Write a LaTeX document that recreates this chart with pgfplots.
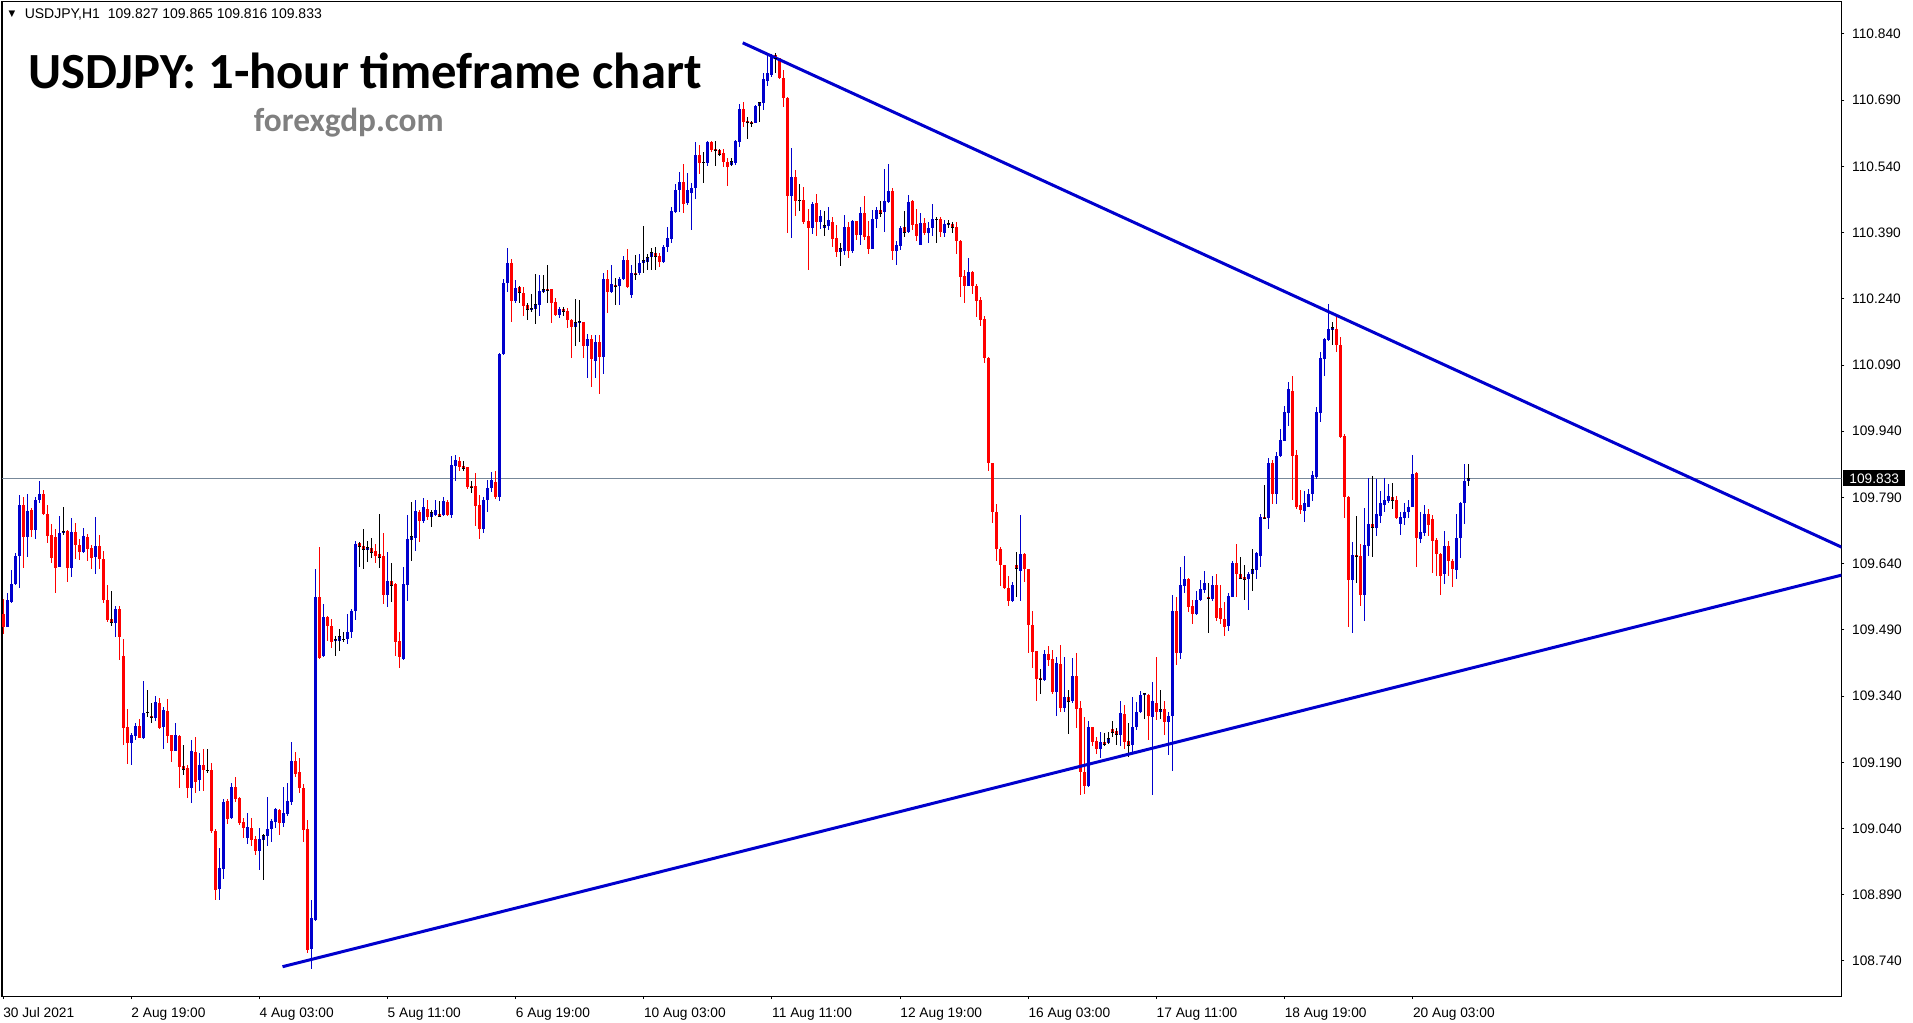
\documentclass[border=0pt]{standalone}
\usepackage{fontspec}
\setmainfont{Liberation Sans}
\newfontfamily\carlito{Carlito}
\newfontfamily\dejavu{DejaVu Sans}
\usepackage{pgfplots}
\pgfplotsset{compat=1.18}
\usepackage{pgfplotstable}
\definecolor{cblue}{RGB}{0,0,205}
\definecolor{cred}{RGB}{255,0,0}
\definecolor{bidgray}{RGB}{119,136,153}
\definecolor{wmgray}{RGB}{128,128,128}

\pgfplotstableread{
i o h l c
0 109.527 109.561 109.480 109.497
1 109.497 109.573 109.496 109.558
2 109.554 109.626 109.550 109.595
3 109.594 109.665 109.591 109.657
4 109.657 109.795 109.584 109.773
5 109.773 109.790 109.631 109.701
6 109.701 109.799 109.656 109.759
7 109.761 109.767 109.701 109.716
8 109.716 109.790 109.695 109.784
9 109.784 109.827 109.777 109.798
10 109.799 109.807 109.750 109.752
11 109.752 109.773 109.687 109.703
12 109.705 109.731 109.642 109.654
13 109.700 109.718 109.573 109.631
14 109.633 109.748 109.632 109.709
15 109.710 109.768 109.706 109.714
16 109.714 109.716 109.599 109.631
17 109.631 109.743 109.610 109.712
18 109.712 109.733 109.650 109.682
19 109.682 109.697 109.648 109.667
20 109.667 109.720 109.665 109.703
21 109.701 109.707 109.647 109.674
22 109.675 109.682 109.628 109.653
23 109.656 109.746 109.617 109.680
24 109.680 109.705 109.628 109.650
25 109.650 109.669 109.552 109.558
26 109.558 109.592 109.509 109.512
27 109.515 109.579 109.499 109.506
28 109.506 109.544 109.475 109.537
29 109.537 109.544 109.422 109.475
30 109.431 109.469 109.229 109.268
31 109.269 109.311 109.186 109.234
32 109.234 109.257 109.184 109.252
33 109.250 109.280 109.240 109.272
34 109.272 109.288 109.244 109.246
35 109.246 109.374 109.243 109.301
36 109.304 109.354 109.293 109.302
37 109.295 109.324 109.280 109.291
38 109.291 109.340 109.284 109.326
39 109.324 109.336 109.265 109.268
40 109.271 109.316 109.220 109.308
41 109.306 109.333 109.234 109.250
42 109.252 109.253 109.191 109.216
43 109.216 109.279 109.216 109.252
44 109.250 109.252 109.132 109.180
45 109.182 109.229 109.162 109.173
46 109.178 109.184 109.110 109.132
47 109.132 109.240 109.099 109.216
48 109.213 109.248 109.120 109.146
49 109.150 109.212 109.126 109.184
50 109.184 109.220 109.126 109.172
51 109.171 109.220 109.165 109.171
52 109.172 109.188 109.031 109.034
53 109.035 109.038 108.877 108.901
54 108.903 108.997 108.878 108.951
55 108.948 109.108 108.926 109.101
56 109.102 109.107 109.050 109.062
57 109.063 109.144 109.061 109.134
58 109.134 109.157 109.099 109.108
59 109.110 109.112 109.047 109.053
60 109.055 109.065 109.019 109.042
61 109.019 109.076 109.005 109.043
62 109.041 109.065 109.000 109.015
63 109.017 109.022 108.980 108.990
64 108.990 109.042 108.946 109.016
65 109.015 109.027 108.923 109.024
66 109.022 109.112 109.001 109.039
67 109.039 109.062 109.010 109.058
68 109.055 109.086 109.042 109.084
69 109.082 109.084 109.025 109.052
70 109.053 109.135 109.044 109.075
71 109.073 109.144 109.069 109.102
72 109.101 109.237 109.093 109.193
73 109.193 109.214 109.157 109.163
74 109.168 109.200 109.121 109.131
75 109.132 109.142 109.010 109.037
76 109.039 109.059 108.759 108.765
77 108.766 108.879 108.722 108.837
78 108.832 109.628 108.830 109.565
79 109.564 109.677 109.425 109.427
80 109.430 109.549 109.428 109.520
81 109.520 109.521 109.465 109.498
82 109.499 109.515 109.450 109.463
83 109.464 109.476 109.432 109.469
84 109.465 109.491 109.443 109.474
85 109.469 109.485 109.463 109.469
86 109.469 109.526 109.458 109.485
87 109.485 109.538 109.472 109.532
88 109.532 109.691 109.512 109.685
89 109.687 109.688 109.632 109.679
90 109.680 109.719 109.628 109.672
91 109.672 109.692 109.643 109.676
92 109.676 109.699 109.654 109.666
93 109.669 109.685 109.641 109.658
94 109.661 109.753 109.631 109.653
95 109.657 109.710 109.548 109.570
96 109.570 109.667 109.542 109.601
97 109.601 109.641 109.553 109.591
98 109.595 109.596 109.430 109.463
99 109.465 109.485 109.403 109.428
100 109.425 109.633 109.421 109.595
101 109.591 109.751 109.556 109.696
102 109.694 109.779 109.646 109.701
103 109.699 109.784 109.668 109.759
104 109.757 109.762 109.690 109.737
105 109.737 109.789 109.732 109.768
106 109.765 109.784 109.740 109.746
107 109.746 109.762 109.724 109.756
108 109.751 109.785 109.748 109.762
109 109.753 109.781 109.745 109.748
110 109.751 109.790 109.748 109.781
111 109.779 109.784 109.748 109.751
112 109.751 109.883 109.743 109.864
113 109.861 109.886 109.827 109.875
114 109.872 109.882 109.849 109.860
115 109.861 109.872 109.849 109.855
116 109.858 109.859 109.809 109.814
117 109.816 109.827 109.800 109.812
118 109.816 109.845 109.726 109.770
119 109.774 109.795 109.696 109.719
120 109.719 109.790 109.710 109.785
121 109.784 109.829 109.756 109.812
122 109.812 109.847 109.803 109.829
123 109.825 109.849 109.787 109.792
124 109.790 110.117 109.783 110.114
125 110.114 110.286 110.113 110.277
126 110.277 110.355 110.255 110.321
127 110.321 110.330 110.188 110.234
128 110.234 110.283 110.230 110.264
129 110.266 110.268 110.230 110.255
130 110.254 110.266 110.200 110.224
131 110.225 110.230 110.192 110.215
132 110.216 110.251 110.211 110.218
133 110.218 110.296 110.183 110.228
134 110.226 110.294 110.201 110.258
135 110.256 110.294 110.254 110.261
136 110.262 110.317 110.230 110.260
137 110.262 110.263 110.186 110.230
138 110.234 110.241 110.200 110.204
139 110.204 110.222 110.196 110.216
140 110.216 110.222 110.200 110.211
141 110.213 110.219 110.173 110.191
142 110.192 110.194 110.105 110.177
143 110.177 110.239 110.133 110.187
144 110.186 110.238 110.143 110.188
145 110.187 110.188 110.105 110.134
146 110.134 110.160 110.060 110.149
147 110.149 110.158 110.041 110.103
148 110.100 110.158 110.060 110.142
149 110.142 110.158 110.024 110.109
150 110.108 110.298 110.069 110.285
151 110.285 110.305 110.207 110.255
152 110.255 110.317 110.253 110.274
153 110.272 110.287 110.226 110.268
154 110.270 110.289 110.226 110.285
155 110.284 110.336 110.283 110.328
156 110.328 110.352 110.264 110.266
157 110.249 110.317 110.243 110.298
158 110.298 110.339 110.283 110.296
159 110.298 110.341 110.294 110.321
160 110.321 110.404 110.299 110.327
161 110.324 110.341 110.306 110.334
162 110.334 110.355 110.306 110.345
163 110.343 110.358 110.306 110.336
164 110.336 110.343 110.313 110.324
165 110.324 110.362 110.322 110.357
166 110.357 110.402 110.345 110.379
167 110.376 110.449 110.366 110.439
168 110.437 110.500 110.434 110.487
169 110.487 110.528 110.436 110.504
170 110.504 110.546 110.435 110.456
171 110.456 110.524 110.453 110.487
172 110.479 110.503 110.395 110.492
173 110.490 110.596 110.466 110.566
174 110.566 110.589 110.523 110.547
175 110.549 110.573 110.503 110.549
176 110.547 110.598 110.541 110.596
177 110.595 110.598 110.573 110.577
178 110.579 110.598 110.542 110.576
179 110.577 110.580 110.564 110.568
180 110.570 110.579 110.538 110.551
181 110.551 110.558 110.496 110.538
182 110.544 110.558 110.542 110.551
183 110.547 110.600 110.543 110.598
184 110.596 110.681 110.585 110.670
185 110.670 110.687 110.630 110.641
186 110.643 110.653 110.602 110.639
187 110.641 110.644 110.630 110.638
188 110.639 110.679 110.638 110.677
189 110.677 110.687 110.641 110.684
190 110.684 110.751 110.668 110.737
191 110.734 110.794 110.722 110.751
192 110.747 110.795 110.742 110.789
193 110.792 110.796 110.751 110.785
194 110.785 110.786 110.737 110.740
195 110.740 110.758 110.675 110.694
196 110.694 110.698 110.390 110.474
197 110.474 110.581 110.377 110.517
198 110.515 110.532 110.428 110.462
199 110.463 110.500 110.438 110.463
200 110.464 110.493 110.410 110.415
201 110.416 110.444 110.305 110.400
202 110.401 110.460 110.387 110.456
203 110.456 110.478 110.383 110.413
204 110.415 110.441 110.398 110.428
205 110.400 110.439 110.383 110.407
206 110.406 110.447 110.396 110.419
207 110.413 110.425 110.358 110.376
208 110.377 110.407 110.334 110.345
209 110.347 110.366 110.315 110.353
210 110.349 110.430 110.339 110.402
211 110.402 110.415 110.333 110.349
212 110.349 110.419 110.343 110.416
213 110.416 110.417 110.373 110.385
214 110.385 110.449 110.362 110.434
215 110.434 110.473 110.373 110.381
216 110.382 110.416 110.342 110.353
217 110.353 110.441 110.352 110.422
218 110.421 110.449 110.400 110.441
219 110.441 110.462 110.426 110.434
220 110.437 110.534 110.392 110.462
221 110.460 110.546 110.456 110.484
222 110.484 110.490 110.328 110.349
223 110.349 110.371 110.317 110.362
224 110.360 110.404 110.351 110.401
225 110.402 110.440 110.381 110.391
226 110.391 110.475 110.389 110.460
227 110.462 110.463 110.396 110.407
228 110.409 110.444 110.370 110.383
229 110.362 110.434 110.361 110.411
230 110.411 110.424 110.385 110.389
231 110.389 110.415 110.367 110.401
232 110.401 110.455 110.383 110.420
233 110.420 110.425 110.367 110.420
234 110.420 110.425 110.379 110.392
235 110.390 110.419 110.379 110.410
236 110.408 110.419 110.400 110.410
237 110.410 110.415 110.389 110.402
238 110.402 110.415 110.342 110.372
239 110.372 110.373 110.245 110.290
240 110.292 110.305 110.231 110.270
241 110.270 110.333 110.268 110.300
242 110.300 110.302 110.251 110.270
243 110.270 110.274 110.200 110.234
244 110.237 110.245 110.179 110.192
245 110.194 110.202 110.094 110.107
246 110.107 110.108 109.851 109.868
247 109.868 109.869 109.733 109.756
248 109.756 109.775 109.645 109.673
249 109.674 109.677 109.590 109.636
250 109.636 109.637 109.583 109.584
251 109.584 109.612 109.545 109.556
252 109.556 109.599 109.554 109.592
253 109.637 109.666 109.565 109.628
254 109.624 109.750 109.556 109.662
255 109.662 109.665 109.599 109.628
256 109.628 109.629 109.438 109.500
257 109.500 109.533 109.404 109.441
258 109.442 109.443 109.328 109.379
259 109.382 109.401 109.345 109.377
260 109.377 109.445 109.374 109.435
261 109.435 109.454 109.409 109.422
262 109.424 109.445 109.345 109.349
263 109.350 109.429 109.296 109.414
264 109.413 109.456 109.303 109.314
265 109.314 109.428 109.303 109.337
266 109.337 109.354 109.254 109.328
267 109.328 109.426 109.325 109.386
268 109.386 109.437 109.267 109.311
269 109.312 109.329 109.115 109.169
270 109.169 109.292 109.118 109.136
271 109.136 109.284 109.135 109.269
272 109.269 109.271 109.227 109.237
273 109.238 109.247 109.209 109.220
274 109.220 109.258 109.199 109.235
275 109.235 109.256 109.226 109.231
276 109.234 109.258 109.232 109.244
277 109.265 109.284 109.247 109.258
278 109.261 109.267 109.229 109.252
279 109.252 109.329 109.228 109.301
280 109.300 109.320 109.220 109.237
281 109.238 109.278 109.201 109.229
282 109.229 109.337 109.214 109.269
283 109.269 109.327 109.263 109.305
284 109.303 109.352 109.301 109.343
285 109.343 109.346 109.288 109.345
286 109.343 109.345 109.241 109.294
287 109.292 109.371 109.116 109.328
288 109.325 109.429 109.285 109.303
289 109.303 109.354 109.288 109.309
290 109.310 109.329 109.252 109.282
291 109.282 109.303 109.207 109.295
292 109.294 109.568 109.171 109.533
293 109.533 109.565 109.411 109.438
294 109.438 109.633 109.424 109.592
295 109.590 109.658 109.573 109.605
296 109.605 109.607 109.531 109.543
297 109.544 109.558 109.503 109.525
298 109.525 109.578 109.524 109.558
299 109.558 109.602 109.556 109.583
300 109.580 109.624 109.573 109.596
301 109.564 109.596 109.482 109.562
302 109.559 109.612 109.556 109.592
303 109.592 109.617 109.511 109.516
304 109.539 109.592 109.503 109.515
305 109.515 109.553 109.477 109.497
306 109.500 109.573 109.488 109.567
307 109.565 109.647 109.564 109.642
308 109.642 109.685 109.564 109.617
309 109.617 109.656 109.605 109.607
310 109.609 109.637 109.558 109.605
311 109.605 109.622 109.534 109.617
312 109.617 109.673 109.579 109.626
313 109.626 109.667 109.605 109.664
314 109.658 109.753 109.632 109.745
315 109.745 109.818 109.741 109.742
316 109.743 109.879 109.718 109.867
317 109.867 109.875 109.775 109.797
318 109.797 109.894 109.775 109.885
319 109.883 109.944 109.882 109.920
320 109.919 109.997 109.917 109.984
321 109.982 110.052 109.952 110.036
322 110.031 110.065 109.784 109.885
323 109.886 109.898 109.765 109.769
324 109.773 109.807 109.753 109.762
325 109.760 109.805 109.735 109.778
326 109.769 109.809 109.768 109.799
327 109.797 109.849 109.783 109.841
328 109.836 109.996 109.833 109.984
329 109.982 110.120 109.962 110.105
330 110.103 110.152 110.065 110.148
331 110.147 110.228 110.145 110.171
332 110.169 110.188 110.135 110.175
333 110.172 110.198 110.120 110.135
334 110.135 110.154 109.924 109.928
335 109.930 109.933 109.744 109.792
336 109.792 109.793 109.496 109.603
337 109.603 109.690 109.482 109.660
338 109.660 109.747 109.596 109.656
339 109.657 109.685 109.545 109.568
340 109.568 109.767 109.511 109.682
341 109.681 109.835 109.658 109.729
342 109.729 109.839 109.656 109.722
343 109.722 109.833 109.703 109.753
344 109.749 109.805 109.732 109.777
345 109.773 109.833 109.758 109.784
346 109.781 109.820 109.777 109.794
347 109.790 109.822 109.765 109.783
348 109.784 109.794 109.741 109.744
349 109.729 109.756 109.704 109.745
350 109.743 109.777 109.728 109.756
351 109.756 109.784 109.743 109.768
352 109.769 109.886 109.768 109.843
353 109.846 109.847 109.632 109.698
354 109.695 109.756 109.686 109.711
355 109.710 109.773 109.703 109.752
356 109.752 109.765 109.703 109.728
357 109.741 109.750 109.618 109.692
358 109.694 109.698 109.612 109.662
359 109.662 109.664 109.568 109.613
360 109.616 109.713 109.594 109.680
361 109.680 109.692 109.612 109.647
362 109.647 109.650 109.587 109.627
363 109.626 109.753 109.605 109.698
364 109.698 109.779 109.652 109.777
365 109.777 109.866 109.730 109.828
366 109.827 109.865 109.816 109.833
}\candles

\begin{document}
\begin{tikzpicture}
\useasboundingbox (0,0) rectangle (1434.75pt,-767.25pt);
\begin{axis}[
  at={(1.5pt,-1.5pt)}, anchor=north west,
  scale only axis, width=1379.625pt, height=745.5pt,
  xmin=-0.25, xmax=459.05, ymin=108.6606, ymax=110.9125,
  axis line style={black, line width=0.75pt},
  tick align=outside,
  major tick length=2.25pt,
  tick style={black, line width=0.75pt},
  xtick={0,32,64,96,128,160,192,224,256,288,320,352},
  xticklabels={30 Jul 2021,2 Aug 19:00,4 Aug 03:00,5 Aug 11:00,6 Aug 19:00,10 Aug 03:00,11 Aug 11:00,12 Aug 19:00,16 Aug 03:00,17 Aug 11:00,18 Aug 19:00,20 Aug 03:00},
  xtick pos=left, xticklabel pos=left,
  ytick pos=right, yticklabel pos=right,
  ytick={108.74,108.89,109.04,109.19,109.34,109.49,109.64,109.79,109.94,110.09,110.24,110.39,110.54,110.69,110.84},
  yticklabels={108.740,108.890,109.040,109.190,109.340,109.490,109.640,109.790,109.940,110.090,110.240,110.390,110.540,110.690,110.840},
  xticklabel style={anchor=north west, inner sep=0pt, font=\fontsize{10.3pt}{12pt}\selectfont, yshift=-6.4pt},
  yticklabel style={anchor=west, inner sep=0pt, font=\fontsize{10.3pt}{12pt}\selectfont, xshift=5.6pt},
  candle/.style={draw=none, mark=none, forget plot},
]
% bid line
\addplot[bidgray, line width=0.75pt, forget plot] coordinates {(-5,109.833) (470,109.833)};
% blue wicks and bodies
\addplot[candle, error bars/.cd, y dir=both, y explicit, error mark=none,
  error bar style={draw=cblue, line width=0.75pt, solid}]
  table[x=i, y expr={\thisrow{c}>\thisrow{o} ? 0.5*(\thisrow{h}+\thisrow{l}) : nan}, y error expr={0.5*(\thisrow{h}-\thisrow{l})}] {\candles};
\addplot[candle, error bars/.cd, y dir=both, y explicit, error mark=none,
  error bar style={draw=cblue, line width=2.25pt, line cap=butt, solid}]
  table[x=i, y expr={\thisrow{c}>\thisrow{o} ? 0.5*(\thisrow{o}+\thisrow{c}) : nan}, y error expr={0.5*abs(\thisrow{c}-\thisrow{o})}] {\candles};
% red wicks and bodies
\addplot[candle, error bars/.cd, y dir=both, y explicit, error mark=none,
  error bar style={draw=cred, line width=0.75pt, solid}]
  table[x=i, y expr={\thisrow{c}<\thisrow{o} ? 0.5*(\thisrow{h}+\thisrow{l}) : nan}, y error expr={0.5*(\thisrow{h}-\thisrow{l})}] {\candles};
\addplot[candle, error bars/.cd, y dir=both, y explicit, error mark=none,
  error bar style={draw=cred, line width=2.25pt, line cap=butt, solid}]
  table[x=i, y expr={\thisrow{c}<\thisrow{o} ? 0.5*(\thisrow{o}+\thisrow{c}) : nan}, y error expr={0.5*abs(\thisrow{c}-\thisrow{o})}] {\candles};
% doji
\addplot[candle, error bars/.cd, y dir=both, y explicit, error mark=none,
  error bar style={draw=black, line width=0.75pt, solid}]
  table[x=i, y expr={\thisrow{c}==\thisrow{o} ? 0.5*(\thisrow{h}+\thisrow{l}) : nan}, y error expr={0.5*(\thisrow{h}-\thisrow{l})}] {\candles};
\addplot[only marks, mark=-, mark size=1.125pt, mark options={draw=black, line width=0.75pt}, forget plot]
  table[x=i, y expr={\thisrow{c}==\thisrow{o} ? \thisrow{c} : nan}] {\candles};
% trend lines
\addplot[cblue, line width=2.25pt, forget plot] coordinates {(184.7,110.820) (470,109.632)};
\addplot[cblue, line width=2.25pt, forget plot] coordinates {(69.8,108.727) (470,109.639)};
\coordinate (bid) at (axis cs:459.05,109.833);
\end{axis}
\node[fill=black, text=white, inner sep=0pt, minimum width=46.5pt, minimum height=12pt, anchor=west,
  font=\fontsize{10.3pt}{12pt}\selectfont] at ([xshift=1.1pt]bid) {109.833};
\node[anchor=base west, inner sep=0pt, font=\carlito\bfseries\fontsize{38pt}{44pt}\selectfont] at (21pt,-66.3pt) {USDJPY: 1-hour timeframe chart};
\node[anchor=base west, inner sep=0pt, text=wmgray, font=\carlito\bfseries\fontsize{25pt}{29pt}\selectfont] at (190.2pt,-98.8pt) {forexgdp.com};
\node[anchor=base west, inner sep=0pt, font=\fontsize{10.5pt}{12pt}\selectfont] at (18.4pt,-14.25pt) {USDJPY,H1\ \ 109.827 109.865 109.816 109.833};
\node[anchor=center, inner sep=0pt, font=\dejavu\fontsize{6.5pt}{8pt}\selectfont] at (9pt,-10.5pt) {▼};
\end{tikzpicture}
\end{document}
